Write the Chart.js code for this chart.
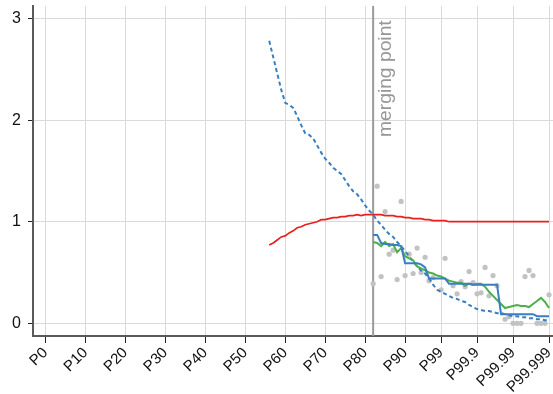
<!DOCTYPE html>
<html>
<head>
<meta charset="utf-8">
<script src="https://cdn.jsdelivr.net/npm/chart.js@4.4.1/dist/chart.umd.min.js"></script>
<style>
  html, body { margin: 0; padding: 0; background: #fff; }
  #wrap { width: 553px; height: 394px; }
</style>
</head>
<body>
<div id="wrap"><canvas id="c"></canvas></div>
<script>
// Horizontal positions: P0..P90 are linear, then every extra "9" adds nine units
const tickPositions = [0, 10, 20, 30, 40, 50, 60, 70, 80, 90, 99, 108, 117, 126];
const tickLabels = ['P0', 'P10', 'P20', 'P30', 'P40', 'P50', 'P60', 'P70', 'P80', 'P90',
                    'P99', 'P99.9', 'P99.99', 'P99.999'];
const yTicks = [0, 1, 2, 3];

const mergeAt = 82;
const mergeLabel = 'merging point';

// Tail series, one value per position from 56 to 126
const tailStart = 56;
const redValues = [
  0.77, 0.79, 0.82, 0.85, 0.86, 0.89, 0.91, 0.94, 0.95, 0.97,
  0.98, 0.99, 1.00, 1.02, 1.02, 1.03, 1.04, 1.04, 1.05, 1.05,
  1.06, 1.06, 1.07, 1.06, 1.07, 1.07, 1.07, 1.07, 1.07, 1.06,
  1.06, 1.06, 1.05, 1.05, 1.04, 1.04, 1.03, 1.03, 1.03, 1.02,
  1.02, 1.01, 1.01, 1.01, 1.01, 1.00, 1.00, 1.00, 1.00, 1.00,
  1.00, 1.00, 1.00, 1.00, 1.00, 1.00, 1.00, 1.00, 1.00, 1.00,
  1.00, 1.00, 1.00, 1.00, 1.00, 1.00, 1.00, 1.00, 1.00, 1.00,
  1.00
];
const dashedValues = [
  2.78, 2.62, 2.46, 2.30, 2.17, 2.15, 2.12, 2.04, 1.95, 1.87,
  1.855, 1.82, 1.75, 1.68, 1.62, 1.58, 1.53, 1.50, 1.47, 1.41,
  1.35, 1.30, 1.27, 1.22, 1.16, 1.11, 1.07, 1.01, 0.97, 0.92,
  0.88, 0.85, 0.80, 0.76, 0.71, 0.66, 0.61, 0.56, 0.52, 0.49,
  0.44, 0.38, 0.33, 0.31, 0.29, 0.27, 0.25, 0.24, 0.22, 0.21,
  0.18, 0.16, 0.14, 0.13, 0.12, 0.12, 0.11, 0.10, 0.10, 0.09,
  0.08, 0.07, 0.07, 0.06, 0.06, 0.05, 0.05, 0.04, 0.04, 0.03,
  0.03
];

// Series that begin at the merging point, one value per position from 82 to 126
const mergeStart = 82;
const blueValues = [
  0.87, 0.87, 0.79, 0.78, 0.78, 0.77, 0.77, 0.76, 0.59, 0.59,
  0.59, 0.59, 0.58, 0.55, 0.44, 0.44, 0.44, 0.44, 0.44, 0.39,
  0.39, 0.39, 0.39, 0.39, 0.39, 0.38, 0.38, 0.38, 0.38, 0.38,
  0.38, 0.38, 0.09, 0.09, 0.09, 0.09, 0.09, 0.09, 0.09, 0.09,
  0.09, 0.07, 0.07, 0.07, 0.07
];
const greenValues = [
  0.80, 0.79, 0.76, 0.80, 0.76, 0.78, 0.70, 0.74, 0.66, 0.64,
  0.62, 0.56, 0.54, 0.52, 0.50, 0.49, 0.47, 0.46, 0.44, 0.42,
  0.41, 0.40, 0.40, 0.37, 0.39, 0.38, 0.39, 0.39, 0.36, 0.31,
  0.27, 0.23, 0.19, 0.15, 0.16, 0.17, 0.18, 0.17, 0.17, 0.16,
  0.19, 0.22, 0.25, 0.21, 0.15
];

// Individual observations
const dotPositions = [82, 83, 84, 85, 86, 87, 88, 89, 90, 91, 92, 93, 94, 95, 96, 97,
                      99, 100, 102, 103, 104, 105, 106, 107, 108, 109, 110, 111, 112, 113,
                      115, 116, 117, 118, 119, 120, 121, 122, 123, 124, 125, 126];
const dotValues = [0.39, 1.35, 0.46, 1.10, 0.68, 0.72, 0.43, 1.20, 0.47, 0.68, 0.49, 0.74, 0.50, 0.65, 0.42, 0.45,
                   0.33, 0.64, 0.37, 0.29, 0.41, 0.36, 0.51, 0.40, 0.29, 0.30, 0.55, 0.27, 0.47, 0.37,
                   0.04, 0.065, 0.00, 0.00, 0.00, 0.46, 0.52, 0.47, 0.00, 0.00, 0.00, 0.28];

const FONT = '"Liberation Sans", Arial, Helvetica, sans-serif';

function seriesFrom(start, values) {
  return values.map((v, i) => ({ x: start + i, y: v }));
}

// Vertical reference line with its rotated caption
const mergeMarker = {
  id: 'mergeMarker',
  beforeDatasetsDraw(chart) {
    const { ctx, chartArea, scales } = chart;
    const px = scales.x.getPixelForValue(mergeAt);
    ctx.save();
    ctx.strokeStyle = '#9a9a9a';
    ctx.lineWidth = 2;
    ctx.beginPath();
    ctx.moveTo(px, chartArea.top);
    ctx.lineTo(px, chartArea.bottom);
    ctx.stroke();
    ctx.translate(px + 18, chartArea.top + 131);
    ctx.rotate(-Math.PI / 2);
    ctx.scale(1.07, 1);
    ctx.font = '18px ' + FONT;
    ctx.fillStyle = '#979797';
    ctx.textAlign = 'left';
    ctx.textBaseline = 'alphabetic';
    ctx.fillText(mergeLabel, 0, 0);
    ctx.restore();
  }
};

new Chart(document.getElementById('c'), {
  type: 'line',
  data: {
    datasets: [
      {
        data: seriesFrom(mergeStart, blueValues),
        borderColor: '#3a7ec2', borderWidth: 2, pointRadius: 0, tension: 0, order: 1
      },
      {
        data: seriesFrom(mergeStart, greenValues),
        borderColor: '#4bb04a', borderWidth: 2, pointRadius: 0, tension: 0, order: 2
      },
      {
        data: seriesFrom(tailStart, dashedValues),
        borderColor: '#3a7ec2', borderWidth: 2, borderDash: [4, 3], pointRadius: 0, tension: 0, order: 3
      },
      {
        data: seriesFrom(tailStart, redValues),
        borderColor: '#e8211f', borderWidth: 1.7, pointRadius: 0, tension: 0, order: 4
      },
      {
        data: dotPositions.map((p, i) => ({ x: p, y: dotValues[i] })),
        showLine: false, pointRadius: 2.6, pointBorderWidth: 0,
        pointBackgroundColor: '#c2c2c2', borderColor: '#c2c2c2', order: 10
      }
    ]
  },
  options: {
    responsive: true,
    maintainAspectRatio: false,
    animation: false,
    events: [],
    layout: { padding: { top: 6, right: 0, left: 0, bottom: 0 }, autoPadding: false },
    plugins: { legend: { display: false }, tooltip: { enabled: false } },
    scales: {
      x: {
        type: 'linear',
        min: -3.1,
        max: 127,
        afterBuildTicks(scale) { scale.ticks = tickPositions.map(v => ({ value: v })); },
        afterFit(scale) { scale.height = 58; scale.paddingLeft = 0; scale.paddingRight = 0; },
        grid: { color: '#dadada', lineWidth: 1, tickColor: '#222', tickLength: 7 },
        border: { color: '#5a5a5a', width: 2 },
        ticks: {
          autoSkip: false, minRotation: 45, maxRotation: 45, padding: 1,
          color: '#111', font: { family: FONT, size: 15 },
          callback(value) {
            const i = tickPositions.indexOf(value);
            return i >= 0 ? tickLabels[i] : '';
          }
        }
      },
      y: {
        min: -0.125,
        max: 3.123,
        afterBuildTicks(scale) { scale.ticks = yTicks.map(v => ({ value: v })); },
        afterFit(scale) { scale.width = 33; scale.paddingTop = 0; scale.paddingBottom = 0; },
        grid: { color: '#dadada', lineWidth: 1, tickColor: '#222', tickLength: 5 },
        border: { color: '#5a5a5a', width: 2 },
        ticks: { padding: 7, color: '#111', font: { family: FONT, size: 16 } }
      }
    }
  },
  plugins: [mergeMarker]
});
</script>
</body>
</html>
